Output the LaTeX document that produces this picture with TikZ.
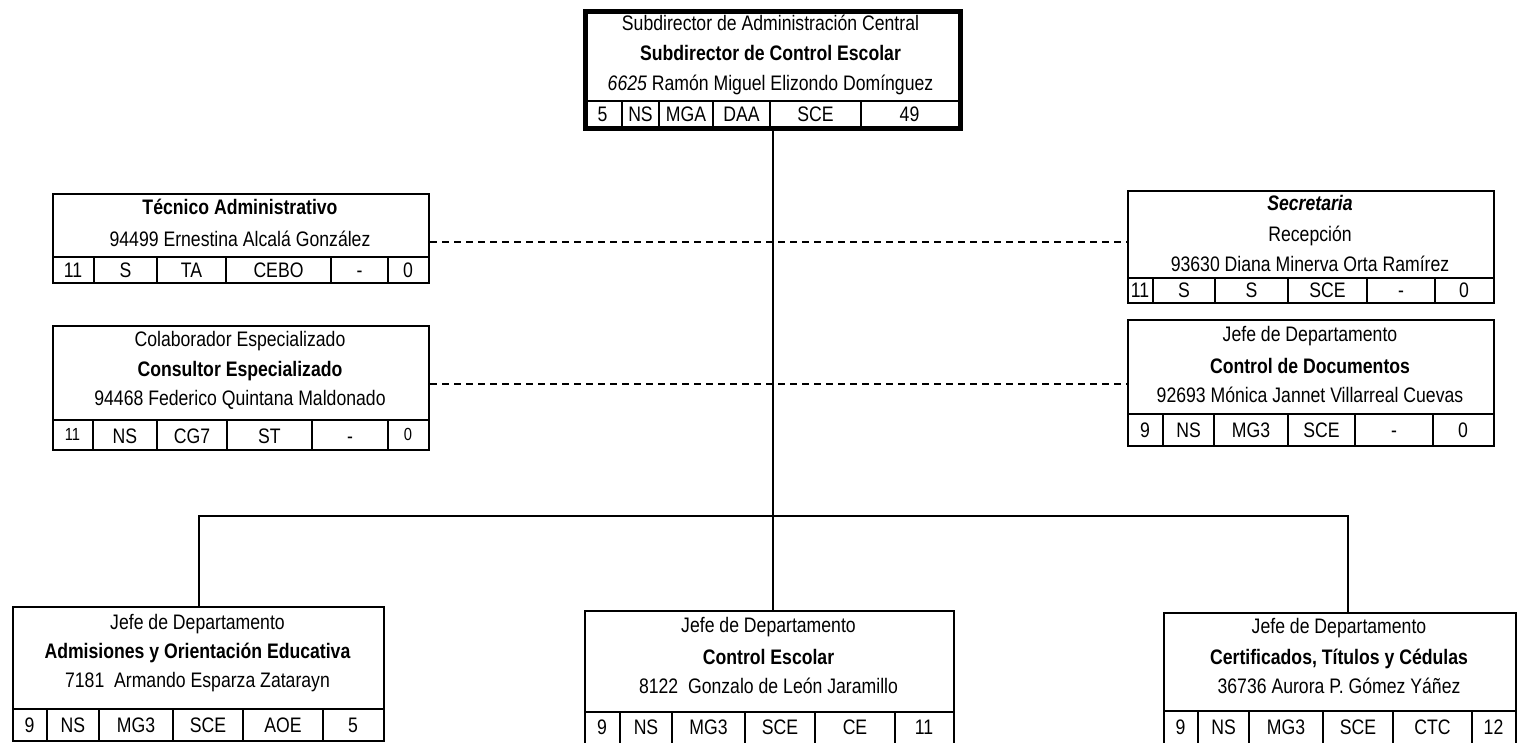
\documentclass[tikz,border=0pt]{standalone}
\usepackage{fontspec}
\setmainfont[FakeStretch=0.84]{Liberation Sans}
\begin{document}
\begin{tikzpicture}[x=1pt,y=-1pt,
  box/.style={draw, line width=2.2pt, inner sep=0pt, anchor=north west},
  topbox/.style={box, line width=4.5pt},
  cell/.style={line width=2pt},
  txt/.style={inner sep=0pt, text height=15pt, text depth=0pt, font=\fontsize{21}{22}\selectfont},
  small/.style={txt, text height=12.5pt, font=\fontsize{17.5}{18}\selectfont},
  conn/.style={line width=1.6pt},
  dashconn/.style={line width=1.6pt, dash pattern=on 7pt off 5pt}]
\useasboundingbox (0,0) rectangle (1517,742);
\clip (0,0) rectangle (1517,742);

% ---------- top box A ----------
\node[topbox, minimum width=375pt, minimum height=117pt] (A) at (583,9) {};
\node[txt] (A1) at (770.5,23) {Subdirector de Administración Central};
\node[txt] (A2) at (770.5,53) {\textbf{Subdirector de Control Escolar}};
\node[txt] (A3) at (770.5,83) {\textit{6625} Ramón Miguel Elizondo Domínguez};
\draw[cell] (583,101) -- (958,101);
\foreach \x in {622,659,713,770,861} \draw[cell] (\x,101) -- (\x,126);
\foreach \x/\t [count=\i] in {602.5/5,640.5/NS,686/MGA,741.5/DAA,815.5/SCE,909.5/49}
  \node[txt] (A-r\i) at (\x,114) {\t};

% ---------- B Tecnico ----------
\node[box, minimum width=376pt, minimum height=89pt] (B) at (52,193) {};
\node[txt] (B1) at (240,207) {\textbf{Técnico Administrativo}};
\node[txt] (B2) at (240,239) {94499 Ernestina Alcalá González};
\draw[cell] (52,257) -- (428,257);
\foreach \x in {94,157,226,331,388} \draw[cell] (\x,257) -- (\x,282);
\foreach \x/\t [count=\i] in {73/11,125.5/S,191.5/TA,278.5/CEBO,359.5/-,408/0}
  \node[txt] (B-r\i) at (\x,270) {\t};

% ---------- C Colaborador ----------
\node[box, minimum width=376pt, minimum height=124pt] (C) at (52,325) {};
\node[txt] (C1) at (240,339) {Colaborador Especializado};
\node[txt] (C2) at (240,369) {\textbf{Consultor Especializado}};
\node[txt] (C3) at (240,398) {94468 Federico Quintana Maldonado};
\draw[cell] (52,420) -- (428,420);
\foreach \x in {93,157,227,312,388} \draw[cell] (\x,420) -- (\x,449);
\node[small] (C-r1) at (72.5,434) {11};
\foreach \x/\t [count=\i from 2] in {125/NS,192/CG7,269.5/ST,350/-}
  \node[txt] (C-r\i) at (\x,436) {\t};
\node[small] (C-r6) at (408,434) {0};

% ---------- D Secretaria ----------
\node[box, minimum width=366pt, minimum height=112pt] (D) at (1127,190) {};
\node[txt] (D1) at (1310,203) {\textbf{\textit{Secretaria}}};
\node[txt] (D2) at (1310,234) {Recepción};
\node[txt] (D3) at (1310,264) {93630 Diana Minerva Orta Ramírez};
\draw[cell] (1127,278) -- (1493,278);
\foreach \x in {1153,1215,1288,1367,1435} \draw[cell] (\x,278) -- (\x,302);
\foreach \x/\t [count=\i] in {1140/11,1184/S,1251.5/S,1327.5/SCE,1401/-,1464/0}
  \node[txt] (D-r\i) at (\x,290) {\t};

% ---------- E Control de Documentos ----------
\node[box, minimum width=366pt, minimum height=126pt] (E) at (1127,319) {};
\node[txt] (E1) at (1310,334) {Jefe de Departamento};
\node[txt] (E2) at (1310,366) {\textbf{Control de Documentos}};
\node[txt] (E3) at (1310,395) {92693 Mónica Jannet Villarreal Cuevas};
\draw[cell] (1127,414) -- (1493,414);
\foreach \x in {1163,1214,1288,1355,1433} \draw[cell] (\x,414) -- (\x,445);
\foreach \x/\t [count=\i] in {1145/9,1188.5/NS,1251/MG3,1321.5/SCE,1394/-,1463/0}
  \node[txt] (E-r\i) at (\x,430) {\t};

% ---------- F Admisiones ----------
\node[box, minimum width=371pt, minimum height=134pt] (F) at (12,606) {};
\node[txt] (F1) at (197.5,622) {Jefe de Departamento};
\node[txt] (F2) at (197.5,651) {\textbf{Admisiones y Orientación Educativa}};
\node[txt] (F3) at (197.5,680) {7181\ \ Armando Esparza Zatarayn};
\draw[cell] (12,709) -- (383,709);
\foreach \x in {47,99,173,243,323} \draw[cell] (\x,709) -- (\x,740);
\foreach \x/\t [count=\i] in {29.5/9,73/NS,136/MG3,208/SCE,283/AOE,353/5}
  \node[txt] (F-r\i) at (\x,725) {\t};

% ---------- G Control Escolar ----------
\node[box, minimum width=369pt, minimum height=150pt] (G) at (584,610) {};
\node[txt] (G1) at (768.5,625) {Jefe de Departamento};
\node[txt] (G2) at (768.5,657) {\textbf{Control Escolar}};
\node[txt] (G3) at (768.5,686) {8122\ \ Gonzalo de León Jaramillo};
\draw[cell] (584,712) -- (953,712);
\foreach \x in {620,672,745,815,895} \draw[cell] (\x,712) -- (\x,760);
\foreach \x/\t [count=\i] in {602/9,646/NS,708.5/MG3,780/SCE,855/CE,924/11}
  \node[txt] (G-r\i) at (\x,727) {\t};

% ---------- H Certificados ----------
\node[box, minimum width=352pt, minimum height=150pt] (H) at (1163,612) {};
\node[txt] (H1) at (1339,626) {Jefe de Departamento};
\node[txt] (H2) at (1339,657) {\textbf{Certificados, Títulos y Cédulas}};
\node[txt] (H3) at (1339,686) {36736 Aurora P. Gómez Yáñez};
\draw[cell] (1163,711) -- (1515,711);
\foreach \x in {1198,1249,1323,1393,1472} \draw[cell] (\x,711) -- (\x,760);
\foreach \x/\t [count=\i] in {1180.5/9,1223.5/NS,1286/MG3,1358/SCE,1432.5/CTC,1493.5/12}
  \node[txt] (H-r\i) at (\x,727) {\t};

% ---------- connectors ----------
\coordinate (d1) at (0,242);
\coordinate (d2) at (0,384);
\coordinate (hl) at (199,516);
\coordinate (hr) at (1348,516);
\draw[conn] (A.south) -- (A.south |- G.north);
\draw[conn] (F.north -| hl) -- (hl) -- (hr) -- (H.north -| hr);
\draw[dashconn] (B.east |- d1) -- (D.west |- d1);
\draw[dashconn] (C.east |- d2) -- (E.west |- d2);
\end{tikzpicture}
\end{document}
